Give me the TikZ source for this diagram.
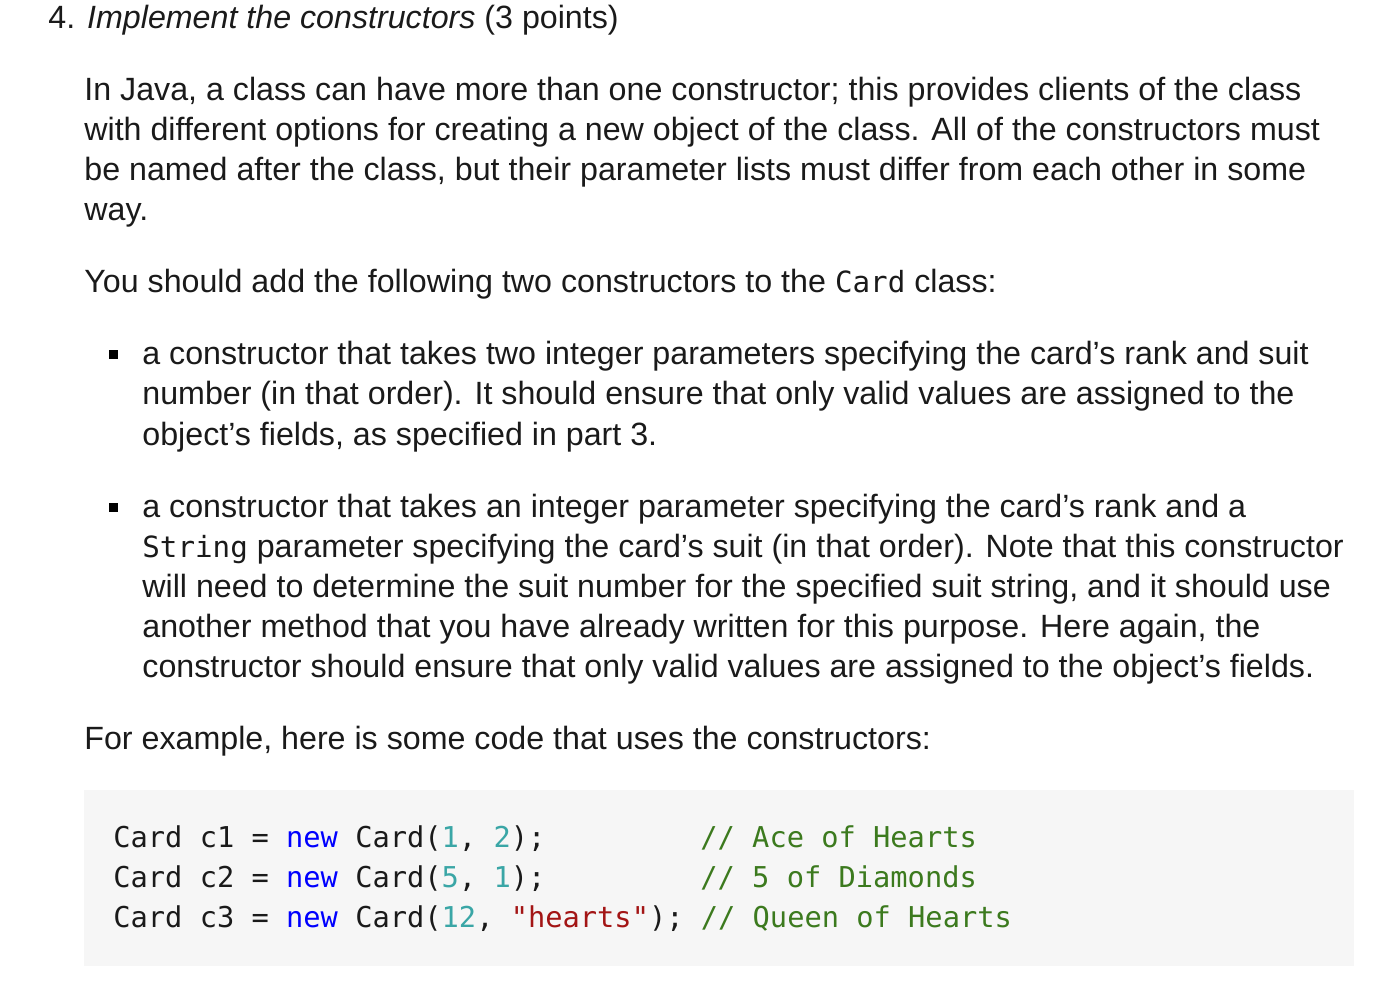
\documentclass[tikz,border=0pt]{standalone}
\usepackage{fontspec}
\setmainfont{Liberation Sans}
\setmonofont{DejaVu Sans Mono}
\definecolor{codebg}{HTML}{F6F6F6}
\definecolor{kw}{HTML}{0000FF}
\definecolor{num}{HTML}{3AA6A6}
\definecolor{str}{HTML}{A31515}
\definecolor{cmt}{HTML}{3C7A1E}
\definecolor{txt}{HTML}{1A1A1A}
\newcommand{\inl}[1]{{\fontsize{14.6}{16}\ttfamily #1}}
\tikzset{
 t/.style={anchor=base west,inner sep=0pt,font=\fontsize{16.1}{18}\selectfont,text=txt},
 c/.style={anchor=base west,inner sep=0pt,font=\fontsize{14.35}{16}\ttfamily,text=txt},
 bul/.style={fill=black,minimum size=4.5pt,inner sep=0pt,draw=none}
}
\begin{document}
\begin{tikzpicture}[x=0.5pt,y=-0.5pt]
\useasboundingbox (0,0) rectangle (1376,994);
\fill[codebg] (84,790) rectangle (1354,966);
\node[t] (h) at (48,29) {4. \textit{Implement the constructors} (3 points)};
\node[t] (p1) at (84,101) {In Java, a class can have more than one constructor; this provides clients of the class};
\node[t] (p2) at (84,141) {with different options for creating a new object of the class. All of the constructors must};
\node[t] (p3) at (84,181) {be named after the class, but their parameter lists must differ from each other in some};
\node[t] (p4) at (84,221) {way.};
\node[t] (q1) at (84,293) {You should add the following two constructors to the \inl{Card} class:};
\node[bul] (b1) at (113,355) {};
\node[t] (a1) at (142,365) {a constructor that takes two integer parameters specifying the card’s rank and suit};
\node[t] (a2) at (142,405) {number (in that order). It should ensure that only valid values are assigned to the};
\node[t] (a3) at (142,445) {object’s fields, as specified in part 3.};
\node[bul] (b2) at (113,507) {};
\node[t] (c1) at (142,517) {a constructor that takes an integer parameter specifying the card’s rank and a};
\node[t] (c2) at (142,557) {\inl{String} parameter specifying the card’s suit (in that order). Note that this constructor};
\node[t] (c3) at (142,597) {will need to determine the suit number for the specified suit string, and it should use};
\node[t] (c4) at (142,637) {another method that you have already written for this purpose. Here again, the};
\node[t] (c5) at (142,677) {constructor should ensure that only valid values are assigned to the object’s fields.};
\node[t] (f1) at (84,749) {For example, here is some code that uses the constructors:};
\node[c] (k1) at (113,847) {Card c1 = \textcolor{kw}{new} Card(\textcolor{num}{1}, \textcolor{num}{2});};
\node[c] (k2) at (113,887) {Card c2 = \textcolor{kw}{new} Card(\textcolor{num}{5}, \textcolor{num}{1});};
\node[c] (k3) at (113,927) {Card c3 = \textcolor{kw}{new} Card(\textcolor{num}{12}, \textcolor{str}{"hearts"}); \textcolor{cmt}{// Queen of Hearts}};
\node[c,text=cmt] (m1) at (700,847) {// Ace of Hearts};
\node[c,text=cmt] (m2) at (700,887) {// 5 of Diamonds};
\end{tikzpicture}
\end{document}
